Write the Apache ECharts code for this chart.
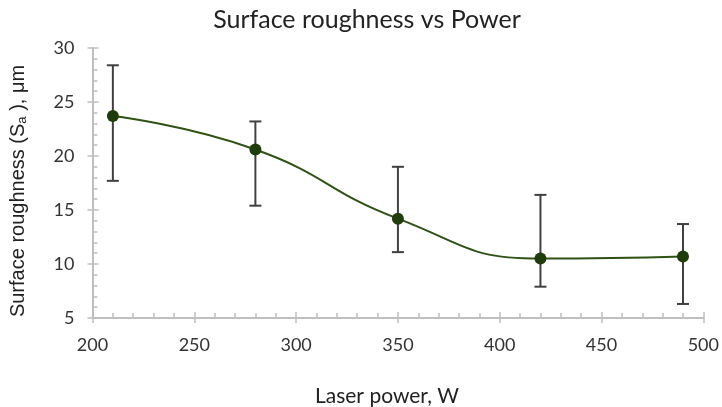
<!DOCTYPE html>
<html>
<head>
<meta charset="utf-8">
<script src="https://cdn.jsdelivr.net/npm/echarts@6/dist/echarts.min.js"></script>
<style>html,body{margin:0;padding:0;background:#fff;}#c{width:722px;height:407px;}</style>
</head>
<body>
<div id="c"></div>
<script>
var power = [210, 280, 350, 420, 490];
var roughness = [23.7, 20.6, 14.2, 10.5, 10.7];
var errLow = [17.7, 15.4, 11.1, 7.9, 6.3];
var errHigh = [28.4, 23.2, 19.0, 16.4, 13.7];
var xTicks = [200, 250, 300, 350, 400, 450, 500];
var yTicks = [5, 10, 15, 20, 25, 30];

var chart = echarts.init(document.getElementById('c'));
var axisGray = '#bfbfbf';
var lineData = power.map(function (p, i) { return [p, roughness[i]]; });
var errData = power.map(function (p, i) { return [p, errLow[i], errHigh[i]]; });

chart.setOption({
  animation: false,
  backgroundColor: '#ffffff',
  title: [{
    text: 'Surface roughness vs Power',
    left: 362, top: 2, textAlign: 'center',
    textStyle: { fontFamily: 'Lato', fontSize: 25, fontWeight: 'normal', color: '#222' }
  }, {
    text: 'Laser power, W',
    left: 382, top: 381, textAlign: 'center',
    textStyle: { fontFamily: 'Lato', fontSize: 21, fontWeight: 'normal', color: '#222' }
  }],
  grid: { left: 92, right: 15, top: 48, bottom: 89 },
  xAxis: [{
    type: 'value', min: xTicks[0], max: xTicks[xTicks.length - 1], interval: 50,
    axisLine: { lineStyle: { color: axisGray, width: 2 } },
    axisTick: { show: true, inside: true, length: 6, lineStyle: { color: axisGray, width: 1.5 } },
    minorTick: { show: true, splitNumber: 5, length: 5, lineStyle: { color: axisGray, width: 1.5 } },
    splitLine: { show: false },
    axisLabel: { margin: 18, fontFamily: 'Lato', fontSize: 18, color: '#333' }
  }, {
    type: 'value', min: xTicks[0], max: xTicks[xTicks.length - 1], interval: 50, position: 'bottom',
    axisLine: { show: false },
    axisTick: { show: true, inside: false, length: 5, lineStyle: { color: axisGray, width: 1.5 } },
    axisLabel: { show: false }, splitLine: { show: false }
  }],
  yAxis: [{
    type: 'value', min: yTicks[0], max: yTicks[yTicks.length - 1], interval: 5,
    name: 'Surface roughness (S{sub|a} ), μm',
    nameLocation: 'middle', nameGap: 64, nameRotate: 90,
    nameTextStyle: {
      fontFamily: 'Liberation Sans', fontSize: 20, color: '#222', padding: [0, 16, 0, 0],
      rich: { sub: { fontFamily: 'Liberation Sans', fontSize: 13, color: '#222', verticalAlign: 'bottom', padding: [8, 0, 0, 0] } }
    },
    axisLine: { show: true, lineStyle: { color: axisGray, width: 2 } },
    axisTick: { show: true, inside: true, length: 6, lineStyle: { color: axisGray, width: 1.5 } },
    minorTick: { show: true, splitNumber: 5, length: 5, lineStyle: { color: axisGray, width: 1.5 } },
    splitLine: { show: false },
    axisLabel: { margin: 18, fontFamily: 'Lato', fontSize: 18, color: '#333' }
  }, {
    type: 'value', min: yTicks[0], max: yTicks[yTicks.length - 1], interval: 5, position: 'left',
    axisLine: { show: false },
    axisTick: { show: true, inside: false, length: 5, lineStyle: { color: axisGray, width: 1.5 } },
    axisLabel: { show: false }, splitLine: { show: false }
  }],
  series: [{
    type: 'custom',
    z: 2,
    data: errData,
    renderItem: function (params, api) {
      var x = api.value(0);
      var lo = api.coord([x, api.value(1)]);
      var hi = api.coord([x, api.value(2)]);
      var cap = 6;
      var style = { stroke: '#404040', lineWidth: 2, fill: null };
      return {
        type: 'group',
        children: [
          { type: 'line', shape: { x1: lo[0], y1: lo[1], x2: hi[0], y2: hi[1] }, style: style },
          { type: 'line', shape: { x1: lo[0] - cap, y1: lo[1], x2: lo[0] + cap, y2: lo[1] }, style: style },
          { type: 'line', shape: { x1: hi[0] - cap, y1: hi[1], x2: hi[0] + cap, y2: hi[1] }, style: style }
        ]
      };
    }
  }, {
    type: 'line',
    z: 3,
    data: lineData,
    smooth: 0.5,
    symbol: 'circle',
    symbolSize: 12,
    lineStyle: { color: '#2e5214', width: 2 },
    itemStyle: { color: '#1e3d0b' }
  }]
});
</script>
</body>
</html>
